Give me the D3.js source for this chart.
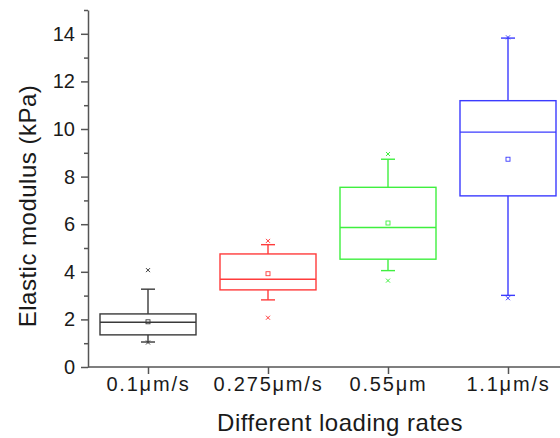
<!DOCTYPE html>
<html>
<head>
<meta charset="utf-8">
<script src="https://cdn.jsdelivr.net/npm/d3@7"></script>
<style>
  body { margin: 0; background: #fff; }
  text { font-family: "Liberation Sans", Arial, sans-serif; }
</style>
</head>
<body>
<div id="chart"></div>
<script>
var categories = ["0.1\u03bcm/s", "0.275\u03bcm/s", "0.55\u03bcm", "1.1\u03bcm/s"];
var colors = ["#3a3a3a", "#ff3b3b", "#3fef3f", "#3b3bff"];
var whiskerLow = [1.05, 2.82, 4.05, 3.01];
var q1 = [1.35, 3.24, 4.53, 7.19];
var median = [1.88, 3.69, 5.86, 9.87];
var q3 = [2.23, 4.75, 7.55, 11.19];
var whiskerHigh = [3.27, 5.14, 8.73, 13.82];
var means = [1.90, 3.92, 6.05, 8.73];
var minPts = [1.03, 2.07, 3.63, 2.89];
var maxPts = [4.07, 5.30, 8.95, 13.85];
var yTicks = [0, 2, 4, 6, 8, 10, 12, 14];
var yMinor = [1, 3, 5, 7, 9, 11, 13, 15];

var W = 560, H = 438;
var x0 = 88, yBase = 367;

var svg = d3.select("#chart").append("svg")
    .attr("width", W)
    .attr("height", H);

var x = d3.scalePoint()
    .domain(categories)
    .range([x0, x0 + 480])
    .padding(0.5);

var y = d3.scaleLinear()
    .domain([0, 15])
    .range([yBase, 10]);

var boxW = x.step() * 0.8;
var capW = 14;

var data = categories.map(function(c, i) {
  return {cat: c, color: colors[i], lo: whiskerLow[i], q1: q1[i], med: median[i],
          q3: q3[i], hi: whiskerHigh[i], mean: means[i], min: minPts[i], max: maxPts[i]};
});

var g = svg.selectAll(".box")
    .data(data)
  .enter().append("g")
    .attr("class", "box")
    .style("stroke", function(d) { return d.color; })
    .style("fill", "none")
    .style("stroke-width", 1.4);

// whiskers
g.append("line")
    .attr("x1", function(d) { return x(d.cat); })
    .attr("x2", function(d) { return x(d.cat); })
    .attr("y1", function(d) { return y(d.q3); })
    .attr("y2", function(d) { return y(d.hi); });
g.append("line")
    .attr("x1", function(d) { return x(d.cat); })
    .attr("x2", function(d) { return x(d.cat); })
    .attr("y1", function(d) { return y(d.q1); })
    .attr("y2", function(d) { return y(d.lo); });
g.append("line")
    .attr("x1", function(d) { return x(d.cat) - capW / 2; })
    .attr("x2", function(d) { return x(d.cat) + capW / 2; })
    .attr("y1", function(d) { return y(d.hi); })
    .attr("y2", function(d) { return y(d.hi); });
g.append("line")
    .attr("x1", function(d) { return x(d.cat) - capW / 2; })
    .attr("x2", function(d) { return x(d.cat) + capW / 2; })
    .attr("y1", function(d) { return y(d.lo); })
    .attr("y2", function(d) { return y(d.lo); });

// box
g.append("rect")
    .attr("x", function(d) { return x(d.cat) - boxW / 2; })
    .attr("width", boxW)
    .attr("y", function(d) { return y(d.q3); })
    .attr("height", function(d) { return y(d.q1) - y(d.q3); })
    .style("fill", "#fff");
g.append("line")
    .attr("x1", function(d) { return x(d.cat) - boxW / 2; })
    .attr("x2", function(d) { return x(d.cat) + boxW / 2; })
    .attr("y1", function(d) { return y(d.med); })
    .attr("y2", function(d) { return y(d.med); });

// mean square
g.append("rect")
    .attr("x", function(d) { return x(d.cat) - 2; })
    .attr("y", function(d) { return y(d.mean) - 2; })
    .attr("width", 4)
    .attr("height", 4)
    .style("stroke-width", 0.9);

// min / max crosses
function cross(sel, key) {
  sel.append("path")
    .attr("d", function(d) {
      var cx = x(d.cat), cy = y(d[key]), s = 2;
      return "M" + (cx - s) + "," + (cy - s) + "L" + (cx + s) + "," + (cy + s) +
             "M" + (cx - s) + "," + (cy + s) + "L" + (cx + s) + "," + (cy - s);
    })
    .style("stroke-width", 1);
}
cross(g, "min");
cross(g, "max");

// axes
var xAxis = svg.append("g")
    .attr("transform", "translate(0," + yBase + ")")
    .call(d3.axisBottom(x).tickSize(7).tickPadding(3));
xAxis.select(".domain").attr("d", "M" + x0 + ",0H" + (x0 + 480));
xAxis.selectAll(".tick text")
    .style("letter-spacing", "1.8px");

var yAxis = svg.append("g")
    .attr("transform", "translate(" + x0 + ",0)")
    .call(d3.axisLeft(y).tickValues(yTicks).tickSize(7).tickPadding(6).tickSizeOuter(0));

svg.append("g")
    .attr("transform", "translate(" + x0 + ",0)")
    .call(d3.axisLeft(y).tickValues(yMinor).tickSize(4).tickFormat(""))
    .select(".domain").remove();

svg.selectAll(".domain, .tick line")
    .style("stroke", "#555")
    .style("stroke-width", 1.5);
svg.selectAll(".tick text")
    .style("font-size", "20px")
    .style("fill", "#1a1a1a")
    .style("font-family", "'Liberation Sans', Arial, sans-serif");

svg.append("text")
    .attr("x", 340)
    .attr("y", 431)
    .attr("text-anchor", "middle")
    .style("font-size", "24px")
    .style("letter-spacing", "0.5px")
    .style("fill", "#1a1a1a")
    .text("Different loading rates");

svg.append("text")
    .attr("transform", "translate(36,206) rotate(-90)")
    .attr("text-anchor", "middle")
    .style("font-size", "24px")
    .style("letter-spacing", "0.5px")
    .style("fill", "#1a1a1a")
    .text("Elastic modulus (kPa)");
</script>
</body>
</html>
